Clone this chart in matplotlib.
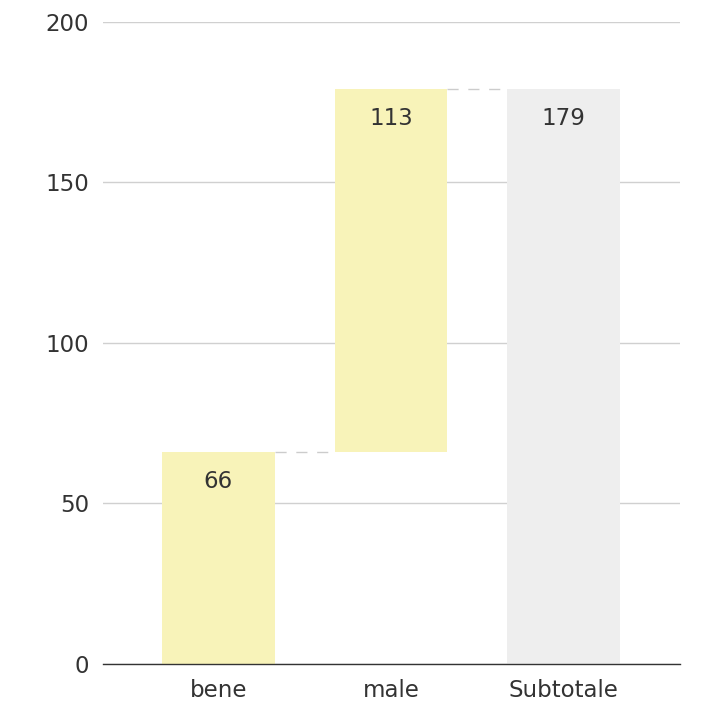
import matplotlib
matplotlib.use("Agg")
import matplotlib.pyplot as plt

categories = ["bene", "male", "Subtotale"]
values = [66, 113, 179]
is_total = [False, False, True]

fig = plt.figure(figsize=(7.04, 7.09), dpi=100)
ax = fig.add_axes([0.146, 0.0635, 0.82, 0.9055])

yellow = "#f8f3b9"
gray = "#eeeeee"
width = 0.653
fs = 16.5
tc = "#333333"

running = 0
tops = []
for i, (c, v, t) in enumerate(zip(categories, values, is_total)):
    if t:
        bottom, top = 0, v
        color = gray
    else:
        bottom, top = running, running + v
        running = top
        color = yellow
    ax.bar(i, top - bottom, bottom=bottom, width=width, color=color, zorder=2)
    ax.text(i, top - 9, str(v), ha="center", va="center", fontsize=fs, color=tc, zorder=3)
    tops.append(top)

for i in range(len(categories) - 1):
    ax.plot([i + width / 2, i + 1 - width / 2], [tops[i], tops[i]],
            linestyle=(0, (8, 7)), color="#cccccc", linewidth=1, zorder=1)

ax.set_xlim(-0.668, 2.673)
ax.set_ylim(0, 200)
ax.set_yticks([0, 50, 100, 150, 200])
ax.set_xticks(range(len(categories)))
ax.set_xticklabels(categories)
ax.yaxis.grid(True, color="#d0d0d0", linewidth=1, zorder=0)
ax.set_axisbelow(True)
for s in ["top", "right", "left"]:
    ax.spines[s].set_visible(False)
ax.spines["bottom"].set_color("#333333")
ax.spines["bottom"].set_linewidth(1)
ax.spines["bottom"].set_zorder(4)
ax.tick_params(axis="y", length=0, pad=10, labelsize=fs, labelcolor=tc)
ax.tick_params(axis="x", length=0, pad=11, labelsize=fs, labelcolor=tc)

fig.savefig("out.png", dpi=100)
